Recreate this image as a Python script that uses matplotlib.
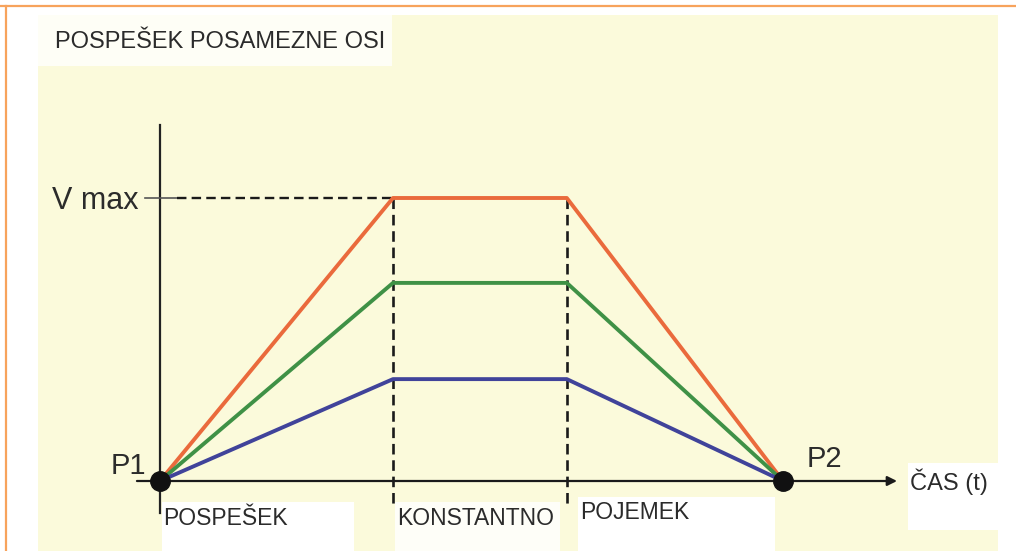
import matplotlib
matplotlib.use('Agg')
import matplotlib.pyplot as plt
from matplotlib.patches import Rectangle
from matplotlib.lines import Line2D

# Breakpoints of the motion profile (time normalised from P1 to P2)
t_points = [0.0, 0.374, 0.653, 1.0]
v_max = 1.0
# Velocity profiles for the three axes (relative to V max)
v_red = [0.0, 1.0, 1.0, 0.0]
v_green = [0.0, 0.70, 0.70, 0.0]
v_blue = [0.0, 0.36, 0.36, 0.0]
phase_labels = ['POSPEŠEK', 'KONSTANTNO', 'POJEMEK']

W, H = 1016, 551
plt.rcParams['font.family'] = ['Liberation Sans', 'DejaVu Sans']
fig = plt.figure(figsize=(W / 100, H / 100), dpi=100)
fig.patch.set_facecolor('white')


def fx(px):
    return px / W


def fy(py):
    return 1 - py / H


def fig_rect(x0, y0, x1, y1, color):
    # negative zorder keeps the background under the axes
    fig.patches.append(Rectangle((fx(x0), fy(y1)), fx(x1 - x0), (y1 - y0) / H,
                                 transform=fig.transFigure, facecolor=color,
                                 edgecolor='none', zorder=-2))


# page background, orange frame and white label patches
fig_rect(38, 15, 998, 551, '#fbfadb')
fig_rect(38, 15, 392, 66, '#fefef6')
fig_rect(162, 502, 354, 551, 'white')
fig_rect(395, 502, 560, 551, '#fefef8')
fig_rect(578, 497, 775, 551, 'white')
fig_rect(908, 463, 998, 530, 'white')
fig.lines.append(Line2D([0, 1], [fy(6), fy(6)], transform=fig.transFigure,
                        color='#f7a35c', lw=1.6, zorder=-1))
fig.lines.append(Line2D([fx(6), fx(6)], [fy(6), 0], transform=fig.transFigure,
                        color='#f7a35c', lw=1.6, zorder=-1))

ax = fig.add_axes([0, 0, 1, 1])
ax.set_facecolor('none')
ax.axis('off')
# 623 px per time unit, 283 px per V max
ax.set_xlim(-160 / 623, (W - 160) / 623)
ax.set_ylim((481 - H) / 283, 481 / 283)

# coordinate axes
ax.plot([0, 0], [-0.113, 1.258], color='#222222', lw=1.6, zorder=3)
ax.annotate('', xy=(1.183, 0), xytext=(-0.037, 0),
            arrowprops=dict(arrowstyle='-|>', color='#1a1a1a', lw=1.6,
                            mutation_scale=14, shrinkA=0, shrinkB=0), zorder=3)

# V max marker and guide lines
ax.plot([-0.024, 0.027], [v_max, v_max], color='#555555', lw=1.2, zorder=3)
ax.plot([0.027, t_points[1]], [v_max, v_max], color='#1a1a1a', lw=1.7,
        dashes=(4, 2.2), zorder=3)
for t in t_points[1:3]:
    ax.plot([t, t], [v_max, -0.085], color='#1a1a1a', lw=1.9,
            dashes=(4, 2.2), zorder=3)

# velocity profiles
ax.plot(t_points, v_red, color='#ea6a3c', lw=2.8, zorder=4)
ax.plot(t_points, v_green, color='#3f9146', lw=2.8, zorder=4)
ax.plot(t_points, v_blue, color='#40439a', lw=2.8, zorder=4)

# start and end points
ax.plot([t_points[0], t_points[-1]], [0, 0], 'o', color='#111111',
        markersize=14, zorder=5)

# texts
txt = '#2b2b2b'
fig.text(fx(55), fy(48), 'POSPEŠEK POSAMEZNE OSI', fontsize=17, color=txt,
         va='baseline')
fig.text(fx(52), fy(209), 'V max', fontsize=22, color=txt, va='baseline')
fig.text(fx(111), fy(474), 'P1', fontsize=21, color=txt, va='baseline')
fig.text(fx(807), fy(467), 'P2', fontsize=21, color=txt, va='baseline')
fig.text(fx(910), fy(490), 'ČAS (t)', fontsize=17, color=txt, va='baseline')
for x, yb, lab in zip([163, 397, 580], [525, 525, 519], phase_labels):
    fig.text(fx(x), fy(yb), lab, fontsize=16.5, color=txt, va='baseline')

fig.savefig('out.png', dpi=100)
